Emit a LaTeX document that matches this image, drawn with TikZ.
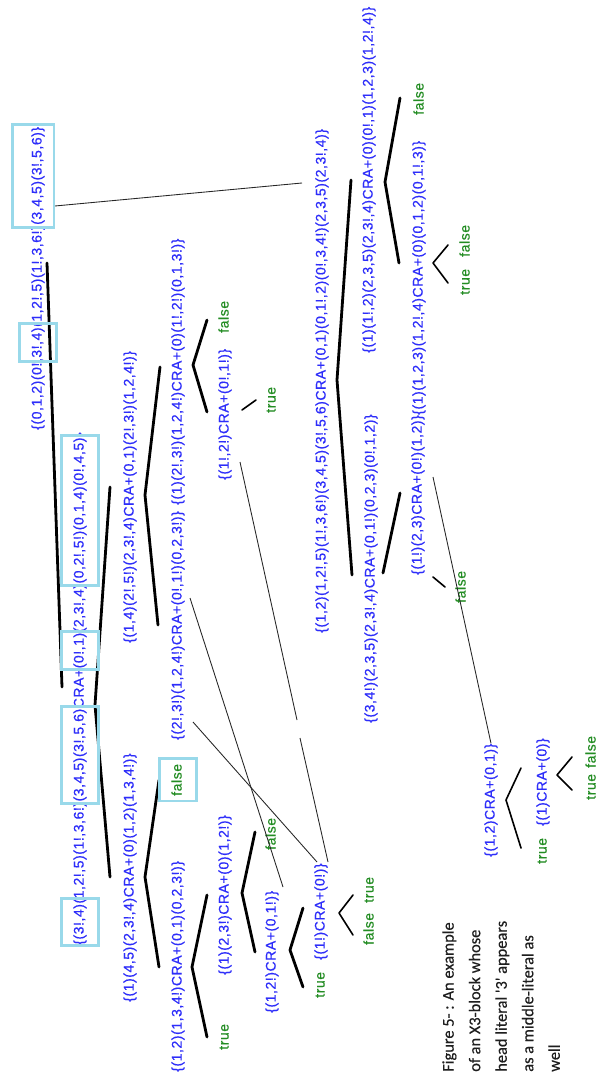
\documentclass[tikz,border=0pt]{standalone}
\usepackage{fontspec}
\usetikzlibrary{fit}
\newfontfamily\lblfont[LetterSpace=4,FakeBold=0.5]{Liberation Sans}
\newfontfamily\capfont[FakeBold=0.3]{Carlito}
\definecolor{litblue}{RGB}{45,45,250}
\definecolor{litgreen}{RGB}{34,140,34}
\definecolor{hilite}{RGB}{153,217,234}
\definecolor{capink}{RGB}{30,30,30}
\tikzset{
  lit/.style={rotate=90, anchor=west, inner sep=0pt, text height=8pt, text depth=2.6pt,
    font=\lblfont\fontsize{10.5}{12}\selectfont, text=litblue},
  val/.style={lit, text=litgreen},
  hl/.style={draw=hilite, line width=2.2pt, inner xsep=8.3pt, inner ysep=1.5pt},
  branch/.style={line width=2.1pt, line cap=round, line join=round},
  twig/.style={line width=1.2pt, line cap=round, line join=round},
  link/.style={line width=0.65pt, draw=black!85},
  caption/.style={rotate=90, anchor=north west, align=left, inner sep=0pt,
    font=\capfont\fontsize{12.3}{19.9}\selectfont, text=capink}
}
\begin{document}
\begin{tikzpicture}[x=0.75pt, y=-0.75pt]
\fill[white] (0,0) rectangle (600,1080);
\useasboundingbox (0,0) rectangle (600,1080);

% ---- root block and its reduction ----
\node[lit] (s1a) at (38,430) {\{(0,1,2)(0!,};
\node[lit] (s1b) at (s1a.east) {3!,4)};
\node[lit] (s1c) at (s1b.east) {(1,2!,5)(1!,3,6!)};
\node[lit] (s1d) at (s1c.east) {(3,4,5)(3!,5,6)\}};

\node[lit] (s2a) at (80,945) {\{};
\node[lit] (s2b) at (s2a.east) {(3!,4)};
\node[lit] (s2c) at (s2b.east) {(1,2!,5)(1!,3,6!)};
\node[lit] (s2d) at (s2c.east) {(3,4,5)(3!,5,6)};
\node[lit] (s2e) at (s2d.east) {CRA+};
\node[lit] (s2f) at (s2e.east) {(0!,1)};
\node[lit] (s2g) at (s2f.east) {(2,3!,4)};
\node[lit] (s2h) at (s2g.east) {(0,2!,5!)(0,1,4)(0!,4,5)};
\node[lit] (s2i) at (s2h.east) {\}};

% ---- left subtree ----
\node[lit] (s3) at (130,643) {\{(1,4)(2!,5!)(2,3!,4)CRA+(0,1)(2!,3!)(1,2,4!)\}};
\node[lit] (s4) at (130,1002) {\{(1)(4,5)(2,3!,4)CRA+(0)(1,2)(1,3,4!)\}};
\node[lit] (s5) at (178,1072) {\{(1,2)(1,3,4!)CRA+(0,1)(0,2,3!)\}};
\node[lit] (s6) at (178,740) {\{(2!,3!)(1,2,4!)CRA+(0!,1!)(0,2,3!)\}};
\node[lit] (s7) at (178,505) {\{(1)(2!,3!)(1,2,4!)CRA+(0)(1!,2!)(0,1,3!)\}};
\node[lit] (s8) at (225,480) {\{(1!,2!)CRA+(0!,1!)\}};
\node[lit] (s9) at (225,975) {\{(1)(2,3!)CRA+(0)(1,2!)\}};
\node[lit] (s10) at (272,1013) {\{(1,2!)CRA+(0,1!)\}};
\node[lit] (s11) at (321,960) {\{(1!)CRA+(0!)\}};

% ---- right subtree ----
\node[lit] (s12) at (322,633) {\{(1,2)(1,2!,5)(1!,3,6!)(3,4,5)(3!,5,6)CRA+(0,1)(0,1!,2)(0!,3,4!)(2,3,5)(2,3!,4)\}};
\node[lit] (s13) at (369,353) {\{(1)(1!,2)(2,3,5)(2,3!,4)CRA+(0)(0!,1)(1,2,3)(1,2!,4)\}};
\node[lit] (s16) at (371,723) {\{(3,4!)(2,3,5)(2,3!,4)CRA+(0,1!)(0,2,3)(0!,1,2)\}};
\node[lit] (s14) at (418,575) {\{(1!)(2,3)CRA+(0!)(1,2)\}};
\node[lit] (s17) at (419,415) {\{(1)(1,2,3)(1,2!,4)CRA+(0)(0,1,2)(0,1!,3)\}};
\node[lit] (s15) at (491,857) {\{(1,2)CRA+(0,1)\}};
\node[lit] (s18) at (543,826) {\{(1)CRA+(0)\}};

% ---- truth values ----
\node[val] (g1) at (178,796) {false};
\node[val] (g2) at (225,1050) {true};
\node[val] (g3) at (225,333) {false};
\node[val] (g4) at (272,413) {true};
\node[val] (g5) at (272,850) {false};
\node[val] (g6) at (321,998) {true};
\node[val] (g7) at (370,903) {true};
\node[val] (g8) at (370,945) {false};
\node[val] (g9) at (420,115) {false};
\node[val] (g10) at (466,295) {true};
\node[val] (g11) at (466,257) {false};
\node[val] (g12) at (462,603) {false};
\node[val] (g13) at (543,864) {true};
\node[val] (g14) at (592,800) {true};
\node[val] (g15) at (592,768) {false};

% ---- branch points ----
\coordinate (e1a) at (47,263);  \coordinate (e1b) at (62,687);
\coordinate (f2) at (95,705);   \coordinate (f2u) at (110,487); \coordinate (f2d) at (110,877);
\coordinate (f3) at (145,495);  \coordinate (f3u) at (160,367); \coordinate (f3d) at (158,625);
\coordinate (f4) at (145,877);  \coordinate (f4u) at (159,780); \coordinate (f4d) at (159,967);
\coordinate (f5) at (192,967);  \coordinate (f5u) at (207,895); \coordinate (f5d) at (207,1037);
\coordinate (f7) at (193,365);  \coordinate (f7u) at (207,320); \coordinate (f7d) at (207,412);
\coordinate (e8a) at (242,410); \coordinate (e8b) at (256,400);
\coordinate (f9) at (242,893);  \coordinate (f9u) at (255,832); \coordinate (f9d) at (255,952);
\coordinate (f10) at (290,950); \coordinate (f10u) at (303,908); \coordinate (f10d) at (303,987);
\coordinate (f11) at (339,913); \coordinate (f11u) at (353,895); \coordinate (f11d) at (353,935);
\coordinate (f12) at (337,380); \coordinate (f12u) at (351,180); \coordinate (f12d) at (352,575);
\coordinate (f13) at (385,182); \coordinate (f13u) at (400,98);  \coordinate (f13d) at (399,263);
\coordinate (e16a) at (383,573); \coordinate (e16b) at (400,493);
\coordinate (f17) at (433,263); \coordinate (f17u) at (448,245); \coordinate (f17d) at (448,283);
\coordinate (e14a) at (433,577); \coordinate (e14b) at (445,587);
\coordinate (f15) at (506,800); \coordinate (f15u) at (521,768); \coordinate (f15d) at (521,848);
\coordinate (f18) at (557,775); \coordinate (f18u) at (572,757); \coordinate (f18d) at (572,790);

\draw[branch] (e1a) -- (e1b);
\draw[branch] (f2u) -- (f2) -- (f2d);
\draw[branch] (f3u) -- (f3) -- (f3d);
\draw[branch] (f4u) -- (f4) -- (f4d);
\draw[branch] (f5u) -- (f5) -- (f5d);
\draw[branch] (f7u) -- (f7) -- (f7d);
\draw[twig] (e8a) -- (e8b);
\draw[branch] (f9u) -- (f9) -- (f9d);
\draw[branch] (f10u) -- (f10) -- (f10d);
\draw[twig] (f11u) -- (f11) -- (f11d);
\draw[branch] (f12u) -- (f12) -- (f12d);
\draw[branch] (f13u) -- (f13) -- (f13d);
\draw[branch] (e16a) -- (e16b);
\draw[twig] (f17u) -- (f17) -- (f17d);
\draw[twig] (e14a) -- (e14b);
\draw[twig] (f15u) -- (f15) -- (f15d);
\draw[twig] (f18u) -- (f18) -- (f18d);

% ---- literal correspondences ----
\coordinate (l1a) at (55,206);   \coordinate (l1b) at (302,183);
\coordinate (lba) at (190,598);  \coordinate (lbb) at (283,887);
\coordinate (lca) at (193,722);  \coordinate (lcb) at (317,862);
\coordinate (laa) at (240,462);  \coordinate (lab) at (297,720);
\coordinate (lac) at (300,738);  \coordinate (lad) at (328,862);
\coordinate (lea) at (433,477);
\draw[link] (l1a) -- (l1b);
\draw[link] (lba) -- (lbb);
\draw[link] (lca) -- (lcb);
\draw[link] (laa) -- (lab);
\draw[link] (lac) -- (lad);
\draw[link] (lea) -- (s15.east);

% ---- highlighted literals ----
\node[hl, inner ysep=3pt, fit=(s1b)] (h1) {};
\node[hl, inner xsep=10pt, xshift=-3.5pt, fit=(s1d)] (h2) {};
\node[hl, inner ysep=4pt, fit=(s2b)] (h3) {};
\node[hl, fit=(s2d)] (h4) {};
\node[hl, inner ysep=0.5pt, fit=(s2f)] (h5) {};
\node[hl, fit=(s2h)] (h6) {};
\node[hl, inner xsep=8.6pt, inner ysep=3.75pt, fit=(g1)] (h7) {};

% ---- caption ----
\node[caption] (cap) at (442,1072) {Figure 5- : An example\\of an X3-block whose\\head literal \textquotesingle 3\textquotesingle{} appears\\as a middle-literal as\\well};
\end{tikzpicture}
\end{document}
